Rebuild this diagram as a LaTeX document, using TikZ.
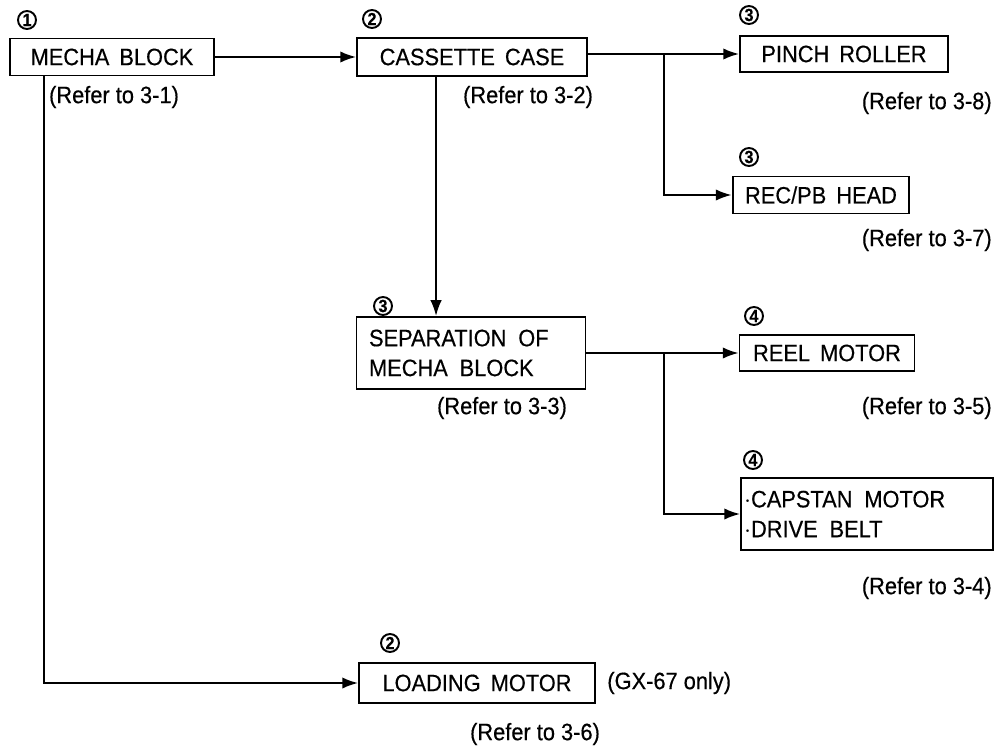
\documentclass[tikz,border=0pt]{standalone}
\usepackage{fontspec}
\setmainfont{Liberation Sans}[FakeStretch=0.92,FakeBold=0.4]
\usetikzlibrary{arrows.meta,calc}
\begin{document}
\begin{tikzpicture}[x=0.02cm,y=-0.02cm,
  font=\fontsize{13.5}{17}\selectfont,
  box/.style={draw, line width=1.1pt, inner xsep=0.25cm, inner ysep=0pt},
  mbox/.style={box, align=left},
  num/.style={draw, circle, line width=1.1pt, minimum size=0.36cm, inner sep=0pt,
    font=\fontsize{10}{10}\bfseries\selectfont},
  ref/.style={inner sep=0pt},
  conn/.style={line width=1.1pt},
  arr/.style={conn, -{Latex[length=9pt,width=6.5pt]}}
]
\useasboundingbox[fill=white] (0,0) rectangle (999,753);

% boxes
\node[box, minimum width=4.08cm, minimum height=0.74cm] (mecha) at (112,57) {MECHA\ \,BLOCK};
\node[box, minimum width=4.6cm, minimum height=0.76cm] (cassette) at (472,57) {CASSETTE\ \,CASE};
\node[box, minimum width=4.16cm, minimum height=0.72cm] (pinch) at (844,54) {PINCH\ \,ROLLER};
\node[box, minimum width=3.24cm, minimum height=0.74cm] (recpb) at (821,195) {REC/PB\ \,HEAD};
\node[mbox, text width=4.08cm, minimum height=1.44cm] (sep) at (471,353) {SEPARATION\ \,OF\\MECHA\ \,BLOCK};
\node[box, minimum width=3.5cm, minimum height=0.72cm] (reel) at (827,353) {REEL\ \,MOTOR};
\node[mbox, inner xsep=0.06cm, text width=4.92cm, minimum height=1.44cm] (capstan) at (867,514) {$\cdot$CAPSTAN\ \,MOTOR\\$\cdot$DRIVE\ \,BELT};
\node[box, minimum width=4.72cm, minimum height=0.8cm] (loading) at (477,683) {LOADING\ \,MOTOR};

% circled numbers
\node[num] (n1) at (27,20) {1};
\node[num] (n2) at (372,19) {2};
\node[num] (n3a) at (749,15) {3};
\node[num] (n3b) at (749,157) {3};
\node[num] (n3c) at (383,306) {3};
\node[num] (n4a) at (754,316) {4};
\node[num] (n4b) at (753,460) {4};
\node[num] (n2b) at (390,643) {2};

% references
\node[ref] (r1) at (114,97) {(Refer to 3-1)};
\node[ref] (r2) at (528,97) {(Refer to 3-2)};
\node[ref, anchor=east] (r8) at (992,103) {(Refer to 3-8)};
\node[ref, anchor=east] (r7) at (992,240) {(Refer to 3-7)};
\node[ref] (r3) at (502,408) {(Refer to 3-3)};
\node[ref, anchor=east] (r5) at (992,408) {(Refer to 3-5)};
\node[ref, anchor=east] (r4) at (992,588) {(Refer to 3-4)};
\node[ref, anchor=west] (gx) at (607,683) {(GX-67 only)};
\node[ref] (r6) at (535,734) {(Refer to 3-6)};

% connectors
\coordinate (b1) at (664,54);
\coordinate (b2) at (664,353);
\draw[arr] (mecha.east) -- (cassette.west);
\draw[arr] (cassette.east |- pinch.west) -- (pinch.west);
\draw[arr] (b1) |- (recpb.west);
\draw[arr] ([xshift=1.6cm]cassette.south west) -- ([xshift=1.6cm]cassette.south west |- sep.north);
\draw[arr] (sep.east) -- (reel.west);
\draw[arr] (b2) |- (capstan.west);
\draw[arr] ([xshift=0.7cm]mecha.south west) |- (loading.west);
\end{tikzpicture}
\end{document}
